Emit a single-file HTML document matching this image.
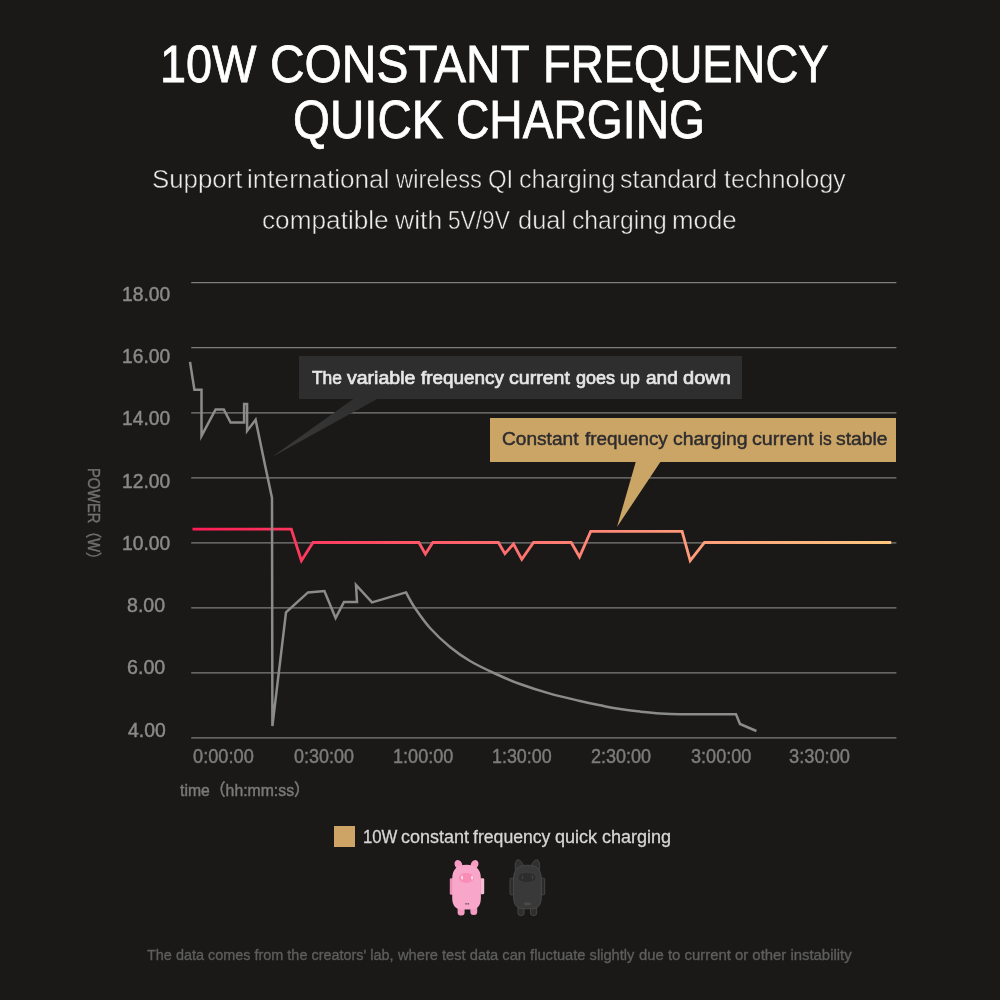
<!DOCTYPE html>
<html lang="en">
<head>
<meta charset="utf-8">
<title>10W Constant Frequency Quick Charging</title>
<style>
html,body{margin:0;padding:0;}
body{width:1000px;height:1000px;overflow:hidden;background:#1a1917;font-family:"Liberation Sans", "Noto Sans CJK SC", sans-serif;}
#page{position:relative;width:1000px;height:1000px;overflow:hidden;background:#1a1917;}
.t{position:absolute;white-space:nowrap;line-height:1;transform-origin:0 0;font-family:"Liberation Sans", "Noto Sans CJK SC", sans-serif;font-weight:400;margin:0;padding:0;}
#chart{position:absolute;left:0;top:0;width:1000px;height:1000px;}
.box{position:absolute;}
#tipgray{left:299.4px;top:356.4px;width:442.2px;height:42.6px;background:#2e2e2e;}
#tipgold{left:490px;top:418.4px;width:406.4px;height:43.2px;background:#cba566;}
.w{width:1000px;}
.w span{position:absolute;top:0;display:block;transform-origin:0 0;white-space:nowrap;}
.ax{-webkit-text-stroke:0.45px currentColor;}
#swatch{left:334px;top:826.4px;width:21px;height:20.6px;background:#cda366;}
</style>
</head>
<body>
<div id="page">
<svg id="chart" viewBox="0 0 1000 1000" width="1000" height="1000">
  <defs>
    <linearGradient id="gline" gradientUnits="userSpaceOnUse" x1="192" y1="0" x2="892" y2="0">
      <stop offset="0" stop-color="#ff1c55"/>
      <stop offset="0.6" stop-color="#ff8a78"/>
      <stop offset="1" stop-color="#ffc87e"/>
    </linearGradient>
    <linearGradient id="gtail" gradientUnits="userSpaceOnUse" x1="366" y1="399" x2="272" y2="457">
      <stop offset="0" stop-color="#2e2e2e"/>
      <stop offset="1" stop-color="#3a3a3a"/>
    </linearGradient>
  </defs>
  <g id="grid" stroke="#7e7e7e" stroke-width="1.25" fill="none">
    <line x1="191.2" y1="282.70" x2="896.4" y2="282.70"/>
    <line x1="191.2" y1="347.74" x2="896.4" y2="347.74"/>
    <line x1="191.2" y1="412.78" x2="896.4" y2="412.78"/>
    <line x1="191.2" y1="477.82" x2="896.4" y2="477.82"/>
    <line x1="191.2" y1="542.86" x2="896.4" y2="542.86"/>
    <line x1="191.2" y1="607.90" x2="896.4" y2="607.90"/>
    <line x1="191.2" y1="672.94" x2="896.4" y2="672.94"/>
    <line x1="191.2" y1="737.98" x2="896.4" y2="737.98"/>
  </g>
  <path id="redline" d="M192.5,529.1 L291.3,529.1 L301.4,560.7 L313.0,542.5 L418.9,542.5 L425.4,554.0 L432.8,542.5 L498.4,542.5 L504.9,553.7 L513.5,544.0 L521.8,559.4 L533.5,542.5 L571.2,542.5 L579.5,556.8 L590.7,531.4 L682.1,531.4 L690.2,560.7 L704.5,542.5 L891.2,542.5" fill="none" stroke="url(#gline)" stroke-width="2.8" stroke-linejoin="miter" stroke-linecap="butt"/>
  <path id="grayline" d="M190.0,361.9 L194.4,389.8 L201.5,389.8 L201.5,435.9 L215.6,409.4 L223.8,409.4 L230.6,422.5 L244.1,422.5 L244.1,404.0 L247.1,404.0 L247.1,430.9 L255.6,419.8 L265.0,465.0 L272.0,498.0 L272.4,726.0 L286.0,612.4 L308.0,592.4 L324.4,591.0 L335.6,618.0 L344.0,602.0 L357.0,602.0 L356.0,585.0 L372.0,602.4 L406.0,592.4 C407.5,595.0 411.0,602.1 415.0,608.0 C419.0,613.9 424.2,621.5 430.0,628.0 C435.8,634.5 443.3,641.5 450.0,647.0 C456.7,652.5 462.3,656.5 470.0,661.0 C477.7,665.5 487.7,670.2 496.0,674.0 C504.3,677.8 511.0,680.7 520.0,684.0 C529.0,687.3 540.0,690.8 550.0,693.6 C560.0,696.4 571.7,699.0 580.0,701.0 C588.3,703.0 593.3,704.0 600.0,705.3 C606.7,706.6 613.3,708.0 620.0,709.0 C626.7,710.0 633.3,710.9 640.0,711.6 C646.7,712.3 653.3,713.0 660.0,713.4 C666.7,713.8 673.3,714.1 680.0,714.2 C686.7,714.4 696.7,714.3 700.0,714.3 L736.0,714.3 L740.0,724.0 L756.4,731.0" fill="none" stroke="#8b8b8b" stroke-width="2.5" stroke-linejoin="miter" stroke-miterlimit="6" stroke-linecap="butt"/>
  <polygon points="354,398.5 378,398.5 272,457" fill="url(#gtail)"/>
  <polygon points="636,461 661,461 617,527" fill="#cba566"/>
  <!-- pink device -->
  <g id="pig">
    <ellipse cx="458.4" cy="864.6" rx="3.7" ry="4.8" transform="rotate(-24 458.4 864.6)" fill="#f79cc2"/>
    <ellipse cx="474.6" cy="864.6" rx="3.7" ry="4.8" transform="rotate(24 474.6 864.6)" fill="#f79cc2"/>
    <rect x="449.8" y="878.2" width="3.6" height="16.6" rx="1.2" fill="#ec8fb4"/>
    <rect x="480.4" y="878.2" width="3.8" height="16" rx="1.2" fill="#f6bdd3"/>
    <rect x="457.6" y="900" width="7" height="15.4" rx="3" fill="#f59ac2"/>
    <rect x="470.4" y="900" width="6.8" height="15" rx="3" fill="#f59ac2"/>
    <path d="M452.2,878.5 C452.2,869 457.5,864.8 466.5,864.8 C475.6,864.8 480.9,869 480.9,878.5 L480.9,897.5 C480.9,906 477.5,909.6 470,909.6 L463,909.6 C455.6,909.6 452.2,906 452.2,897.5 Z" fill="#f8a6ca"/>
    <ellipse cx="466.3" cy="878" rx="7.4" ry="5" fill="#f98db6"/>
    <rect x="461.3" y="875.8" width="1.5" height="3.6" rx="0.7" fill="#ffe9f1"/>
    <rect x="471.3" y="875.8" width="1.5" height="3.6" rx="0.7" fill="#ffe9f1"/>
    <rect x="465.2" y="903" width="1.6" height="1.6" fill="#8a5a6e"/>
    <rect x="467.5" y="903" width="1.6" height="1.6" fill="#8a5a6e"/>
  </g>
  <!-- black device -->
  <g id="blk" stroke="#4c4c4c" stroke-width="0.8">
    <path d="M515.4,869.5 C514.6,864 515.8,860.2 517.6,859.8 C520,859.6 522.6,862.4 523.4,866 Z" fill="#303030"/>
    <path d="M539.4,869.5 C540.2,864 539,860.2 537.2,859.8 C534.8,859.6 532.2,862.4 531.4,866 Z" fill="#303030"/>
    <rect x="510" y="878.2" width="3.8" height="16.6" rx="1" fill="#2b2b2b"/>
    <rect x="541.1" y="878.2" width="3.6" height="16.6" rx="1" fill="#2b2b2b"/>
    <rect x="517.9" y="900" width="6.2" height="15.5" rx="2.4" fill="#2e2e2e"/>
    <rect x="530.5" y="900" width="6.2" height="15.5" rx="2.4" fill="#2e2e2e"/>
    <path d="M513.6,878.5 C513.6,869 518.6,865.2 527.4,865.2 C536.3,865.2 541.3,869 541.3,878.5 L541.3,897 C541.3,905.4 538,908.8 531,908.8 L524,908.8 C517,908.8 513.6,905.4 513.6,897 Z" fill="#393939"/>
    <ellipse cx="526.9" cy="877.5" rx="9.2" ry="5.3" fill="#2d2d2d" stroke="#414141" stroke-width="0.7"/>
    <rect x="521.8" y="875.6" width="1.1" height="3.4" rx="0.5" fill="#474747" stroke="none"/>
    <rect x="532" y="875.6" width="1.1" height="3.4" rx="0.5" fill="#474747" stroke="none"/>
    <ellipse cx="527.5" cy="903.8" rx="3.6" ry="1.5" fill="#4a4a4a" stroke="none"/>
  </g>
</svg>
<div class="box" id="tipgray"></div>
<div class="box" id="tipgold"></div>
<div class="box" id="swatch"></div>
<div class="t w title" id="h1a" style="left:0;top:34px;font-size:52.6px;line-height:59px;height:59px;color:#ffffff;-webkit-text-stroke:0.80px #ffffff"><span style="left:159.68px;transform:scaleX(0.8911)">10W</span> <span style="left:269.97px;transform:scaleX(0.9102)">CONSTANT</span> <span style="left:542.72px;transform:scaleX(0.8651)">FREQUENCY</span></div>
<div class="t w title" id="h1b" style="left:0;top:90px;font-size:52.8px;line-height:59px;height:59px;color:#ffffff;-webkit-text-stroke:0.80px #ffffff"><span style="left:293.46px;transform:scaleX(0.9001)">QUICK</span> <span style="left:456.15px;transform:scaleX(0.8748)">CHARGING</span></div>
<div class="t w sub" id="s1" style="left:0;top:164px;font-size:26.5px;line-height:30px;height:30px;color:#ebebeb;-webkit-text-stroke:0.50px #1a1917"><span style="left:151.74px;transform:scaleX(0.9743)">Support</span> <span style="left:246.96px;transform:scaleX(0.9862)">international</span> <span style="left:396.26px;transform:scaleX(0.8977)">wireless</span> <span style="left:487.57px;transform:scaleX(0.9029)">QI</span> <span style="left:518.77px;transform:scaleX(0.9480)">charging</span> <span style="left:620.03px;transform:scaleX(0.9416)">standard</span> <span style="left:724.02px;transform:scaleX(0.9495)">technology</span></div>
<div class="t w sub" id="s2" style="left:0;top:205px;font-size:26.5px;line-height:30px;height:30px;color:#ebebeb;-webkit-text-stroke:0.50px #1a1917"><span style="left:262.48px;transform:scaleX(0.9886)">compatible</span> <span style="left:395.04px;transform:scaleX(1.0010)">with</span> <span style="left:447.62px;transform:scaleX(0.8559)">5V/9V</span> <span style="left:517.51px;transform:scaleX(0.9590)">dual</span> <span style="left:571.79px;transform:scaleX(0.9329)">charging</span> <span style="left:671.97px;transform:scaleX(0.9758)">mode</span></div>
<div class="t w tip" id="tipg" style="left:0;top:367px;font-size:18.7px;line-height:21px;height:21px;color:#e6e6e6;-webkit-text-stroke:0.70px #e6e6e6"><span style="left:311.77px;transform:scaleX(0.9293)">The</span> <span style="left:347.31px;transform:scaleX(1.0441)">variable</span> <span style="left:420.73px;transform:scaleX(1.0102)">frequency</span> <span style="left:509.13px;transform:scaleX(1.0466)">current</span> <span style="left:576.09px;transform:scaleX(0.9651)">goes</span> <span style="left:620.25px;transform:scaleX(0.9510)">up</span> <span style="left:646.05px;transform:scaleX(1.0193)">and</span> <span style="left:683.11px;transform:scaleX(1.0714)">down</span></div>
<div class="t w tip" id="tipy" style="left:0;top:428px;font-size:18.3px;line-height:21px;height:21px;color:#2e2c2e;-webkit-text-stroke:0.45px #2e2c2e"><span style="left:502.25px;transform:scaleX(1.0446)">Constant</span> <span style="left:584.61px;transform:scaleX(1.0313)">frequency</span> <span style="left:673.42px;transform:scaleX(1.0637)">charging</span> <span style="left:751.91px;transform:scaleX(1.0788)">current</span> <span style="left:818.85px;transform:scaleX(0.9591)">is</span> <span style="left:836.12px;transform:scaleX(1.0563)">stable</span></div>
<div class="t w leg" id="leg" style="left:0;top:826px;font-size:18.3px;line-height:21px;height:21px;color:#d6d6d6;-webkit-text-stroke:0.30px #d6d6d6"><span style="left:363.26px;transform:scaleX(0.9142)">10W</span> <span style="left:400.61px;transform:scaleX(0.9846)">constant</span> <span style="left:472.76px;transform:scaleX(0.9644)">frequency</span> <span style="left:555.11px;transform:scaleX(0.9872)">quick</span> <span style="left:601.91px;transform:scaleX(0.9853)">charging</span></div>
<div class="t w foot" id="foot" style="left:0;top:946px;font-size:15.4px;line-height:17px;height:17px;color:#5e5e5e;-webkit-text-stroke:0.35px #5e5e5e"><span style="left:146.87px;transform:scaleX(0.9377)">The data comes from the creators' lab,</span> <span style="left:397.80px;transform:scaleX(0.9528)">where test data can fluctuate slightly</span> <span style="left:639.06px;transform:scaleX(0.9672)">due to current or other instability</span></div>
<div class="t ax" id="y0" style="left:121.85px;top:283px;font-size:19.6px;line-height:22px;transform:scaleX(0.9836);color:#8a8a8a">18.00</div>
<div class="t ax" id="y1" style="left:121.85px;top:345px;font-size:19.6px;line-height:22px;transform:scaleX(0.9836);color:#8a8a8a">16.00</div>
<div class="t ax" id="y2" style="left:121.85px;top:407px;font-size:19.6px;line-height:22px;transform:scaleX(0.9836);color:#8a8a8a">14.00</div>
<div class="t ax" id="y3" style="left:121.85px;top:470px;font-size:19.6px;line-height:22px;transform:scaleX(0.9836);color:#8a8a8a">12.00</div>
<div class="t ax" id="y4" style="left:121.85px;top:532px;font-size:19.6px;line-height:22px;transform:scaleX(0.9836);color:#8a8a8a">10.00</div>
<div class="t ax" id="y5" style="left:127.22px;top:594px;font-size:19.6px;line-height:22px;transform:scaleX(0.9984);color:#8a8a8a">8.00</div>
<div class="t ax" id="y6" style="left:127.02px;top:656px;font-size:19.6px;line-height:22px;transform:scaleX(1.0037);color:#8a8a8a">6.00</div>
<div class="t ax" id="y7" style="left:127.62px;top:719px;font-size:19.6px;line-height:22px;transform:scaleX(0.9878);color:#8a8a8a">4.00</div>
<div class="t ax" id="x0" style="left:193.46px;top:745px;font-size:19.6px;line-height:22px;transform:scaleX(0.9298);color:#7c7c7c">0:00:00</div>
<div class="t ax" id="x1" style="left:293.86px;top:745px;font-size:19.6px;line-height:22px;transform:scaleX(0.9173);color:#7c7c7c">0:30:00</div>
<div class="t ax" id="x2" style="left:392.63px;top:745px;font-size:19.6px;line-height:22px;transform:scaleX(0.9239);color:#7c7c7c">1:00:00</div>
<div class="t ax" id="x3" style="left:491.55px;top:745px;font-size:19.6px;line-height:22px;transform:scaleX(0.9128);color:#7c7c7c">1:30:00</div>
<div class="t ax" id="x4" style="left:590.50px;top:745px;font-size:19.6px;line-height:22px;transform:scaleX(0.9198);color:#7c7c7c">2:30:00</div>
<div class="t ax" id="x5" style="left:690.86px;top:745px;font-size:19.6px;line-height:22px;transform:scaleX(0.9235);color:#7c7c7c">3:00:00</div>
<div class="t ax" id="x6" style="left:789.25px;top:745px;font-size:19.6px;line-height:22px;transform:scaleX(0.9329);color:#7c7c7c">3:30:00</div>
<div class="t ax" id="tl" style="left:179.64px;top:781px;font-size:16.6px;line-height:19px;transform:scaleX(0.9513);color:#7a7a7a">time（hh:mm:ss）</div>
<div class="t ax" id="pw" style="left:103px;top:468.42px;font-size:16.2px;line-height:18px;transform:rotate(90deg) scaleX(0.9072);color:#707070">POWER（W）</div>
</div>
</body>
</html>
